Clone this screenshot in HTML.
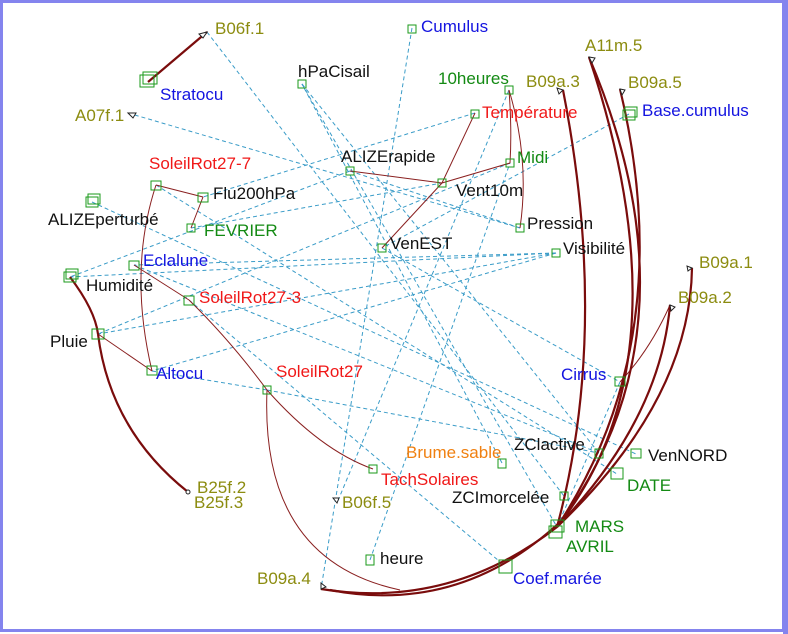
<!DOCTYPE html>
<html><head><meta charset="utf-8"><style>
html,body{margin:0;padding:0;background:#fff}
svg{display:block}
text{font-family:"Liberation Sans",sans-serif;font-size:17px}
.o{fill:#8c8c10}.g{fill:#138a13}.b{fill:#1414e0}.r{fill:#f01818}.k{fill:#111}.or{fill:#f08010}
.d{stroke:#3a9cc8;stroke-width:1;stroke-dasharray:4,3;fill:none}
.t{stroke:#8a2020;stroke-width:1;fill:none}
.T{stroke:#7a0c0c;stroke-width:2.2;fill:none}
.n{stroke:#1a9a1a;fill:none;stroke-width:1}
</style></head><body>
<svg width="788" height="634" viewBox="0 0 788 634">
<rect x="0" y="0" width="788" height="634" fill="#fff"/>
<g class="d">
<line x1="207" y1="32" x2="564" y2="496"/>
<line x1="128" y1="113" x2="520" y2="228"/>
<line x1="302" y1="84" x2="557" y2="527"/>
<line x1="302" y1="84" x2="599" y2="453"/>
<line x1="412" y1="28" x2="321" y2="589"/>
<line x1="350" y1="171" x2="70" y2="277"/>
<line x1="350" y1="171" x2="520" y2="228"/>
<line x1="475" y1="113" x2="203" y2="197"/>
<line x1="509" y1="90" x2="337" y2="503"/>
<line x1="629" y1="114" x2="382" y2="248"/>
<line x1="510" y1="163" x2="98" y2="334"/>
<line x1="556" y1="253" x2="70" y2="277"/>
<line x1="556" y1="253" x2="98" y2="334"/>
<line x1="556" y1="253" x2="134" y2="265"/>
<line x1="556" y1="253" x2="152" y2="371"/>
<line x1="92" y1="202" x2="636" y2="454"/>
<line x1="134" y1="265" x2="599" y2="453"/>
<line x1="189" y1="300" x2="505" y2="566"/>
<line x1="152" y1="371" x2="267" y2="390"/>
<line x1="267" y1="390" x2="599" y2="453"/>
<line x1="370" y1="560" x2="510" y2="163"/>
<line x1="156" y1="185" x2="617" y2="474"/>
<line x1="502" y1="463" x2="302" y2="84"/>
<line x1="557" y1="527" x2="620" y2="382"/>
<line x1="382" y1="248" x2="620" y2="382"/>
<line x1="191" y1="228" x2="442" y2="183"/>
</g>
<g class="t">
<line x1="156" y1="185" x2="203" y2="197"/>
<line x1="203" y1="197" x2="191" y2="228"/>
<path d="M156,185 Q128,270 152,371"/>
<line x1="134" y1="265" x2="189" y2="300"/>
<path d="M189,300 Q230,340 267,390"/>
<path d="M267,390 Q320,450 373,469"/>
<path d="M267,390 Q260,560 400,590"/>
<line x1="98" y1="334" x2="152" y2="371"/>
<line x1="350" y1="171" x2="442" y2="183"/>
<line x1="442" y1="183" x2="475" y2="113"/>
<line x1="442" y1="183" x2="510" y2="163"/>
<line x1="442" y1="183" x2="382" y2="248"/>
<path d="M509,90 Q512,130 510,163"/>
<path d="M509,90 Q530,160 520,228"/>
<path d="M620,382 Q650,350 670,305"/>
</g>
<g class="T">
<line x1="148" y1="82" x2="207" y2="32"/>
<path d="M70,277 Q95,310 98,334"/>
<path d="M98,334 Q110,430 188,492"/>
<path d="M557,527 Q610,330 563,90"/>
<path d="M557,527 Q690,360 589,57"/>
<path d="M557,527 Q705,330 589,57"/>
<path d="M557,527 Q680,340 620,89"/>
<path d="M557,527 Q660,420 670,305"/>
<path d="M557,527 Q690,400 692,268"/>
<path d="M557,527 Q450,610 321,589"/>
<path d="M560,522 Q460,615 330,590"/>
</g>
<g fill="#fff" stroke="#222" stroke-width="1">
<path d="M207,32 l-8,2 l4,4z"/>
<path d="M128,113 l8,0 l-3,5z"/>
<path d="M563,90 l-6,-2 l2,6z"/>
<path d="M589,57 l6,1 l-3,5z"/>
<path d="M620,89 l5,1 l-3,5z"/>
<path d="M692,268 l-5,-2 l1,5z"/>
<path d="M670,305 l5,2 l-4,4z"/>
<path d="M321,589 l0,-6 l5,4z"/>
<path d="M337,503 l-4,-5 l6,0z"/>
<circle cx="188" cy="492" r="2"/>
</g>
<g class="n">
<rect x="140" y="75" width="14" height="12"/><rect x="143" y="72" width="14" height="12"/>
<rect x="298" y="80" width="8" height="8"/>
<rect x="408" y="25" width="8" height="8"/>
<rect x="505" y="86" width="8" height="8"/>
<rect x="471" y="110" width="8" height="8"/>
<rect x="623" y="110" width="12" height="10"/><rect x="625" y="107" width="12" height="10"/>
<rect x="346" y="167" width="8" height="8"/>
<rect x="506" y="159" width="8" height="8"/>
<rect x="438" y="179" width="8" height="8"/>
<rect x="151" y="181" width="10" height="9"/>
<rect x="198" y="193" width="10" height="9"/>
<rect x="86" y="197" width="12" height="10"/><rect x="88" y="194" width="12" height="10"/>
<rect x="187" y="224" width="8" height="8"/>
<rect x="516" y="224" width="8" height="8"/>
<rect x="378" y="244" width="8" height="8"/>
<rect x="552" y="249" width="8" height="8"/>
<rect x="129" y="261" width="10" height="9"/>
<rect x="64" y="272" width="12" height="10"/><rect x="66" y="269" width="12" height="10"/>
<rect x="184" y="296" width="10" height="9"/>
<rect x="92" y="329" width="12" height="10"/>
<rect x="147" y="366" width="10" height="9"/>
<rect x="263" y="386" width="8" height="8"/>
<rect x="615" y="377" width="10" height="9"/>
<rect x="595" y="449" width="8" height="9"/>
<rect x="631" y="449" width="10" height="9"/>
<rect x="498" y="459" width="8" height="9"/>
<rect x="369" y="465" width="8" height="8"/>
<rect x="611" y="468" width="12" height="11"/>
<rect x="560" y="492" width="8" height="8"/>
<rect x="551" y="520" width="13" height="12"/><rect x="549" y="526" width="13" height="12"/>
<rect x="366" y="555" width="8" height="10"/>
<rect x="499" y="560" width="13" height="13"/>
</g>
<text x="215" y="34" class="o">B06f.1</text>
<text x="160" y="100" class="b">Stratocu</text>
<text x="75" y="121" class="o">A07f.1</text>
<text x="298" y="77" class="k">hPaCisail</text>
<text x="421" y="32" class="b">Cumulus</text>
<text x="438" y="84" class="g">10heures</text>
<text x="482" y="118" class="r">Température</text>
<text x="526" y="87" class="o">B09a.3</text>
<text x="585" y="51" class="o">A11m.5</text>
<text x="628" y="88" class="o">B09a.5</text>
<text x="642" y="116" class="b">Base.cumulus</text>
<text x="341" y="162" class="k">ALIZErapide</text>
<text x="517" y="163" class="g">Midi</text>
<text x="456" y="196" class="k">Vent10m</text>
<text x="149" y="169" class="r">SoleilRot27-7</text>
<text x="213" y="199" class="k">Flu200hPa</text>
<text x="48" y="225" class="k">ALIZEperturbé</text>
<text x="204" y="236" class="g">FEVRIER</text>
<text x="527" y="229" class="k">Pression</text>
<text x="390" y="249" class="k">VenEST</text>
<text x="563" y="254" class="k">Visibilité</text>
<text x="143" y="266" class="b">Eclalune</text>
<text x="86" y="291" class="k">Humidité</text>
<text x="199" y="303" class="r">SoleilRot27-3</text>
<text x="699" y="268" class="o">B09a.1</text>
<text x="678" y="303" class="o">B09a.2</text>
<text x="50" y="347" class="k">Pluie</text>
<text x="156" y="379" class="b">Altocu</text>
<text x="276" y="377" class="r">SoleilRot27</text>
<text x="561" y="380" class="b">Cirrus</text>
<text x="514" y="450" class="k">ZClactive</text>
<text x="648" y="461" class="k">VenNORD</text>
<text x="406" y="458" class="or">Brume.sable</text>
<text x="381" y="485" class="r">TachSolaires</text>
<text x="627" y="491" class="g">DATE</text>
<text x="197" y="493" class="o">B25f.2</text>
<text x="194" y="508" class="o">B25f.3</text>
<text x="342" y="508" class="o">B06f.5</text>
<text x="452" y="503" class="k">ZCImorcelée</text>
<text x="575" y="532" class="g">MARS</text>
<text x="566" y="552" class="g">AVRIL</text>
<text x="380" y="564" class="k">heure</text>
<text x="513" y="584" class="b">Coef.marée</text>
<text x="257" y="584" class="o">B09a.4</text>
<rect x="1.5" y="1.5" width="782" height="629" fill="none" stroke="#8484ee" stroke-width="3"/>
<rect x="783" y="0" width="5" height="634" fill="#8484ee"/>
</svg>
</body></html>
